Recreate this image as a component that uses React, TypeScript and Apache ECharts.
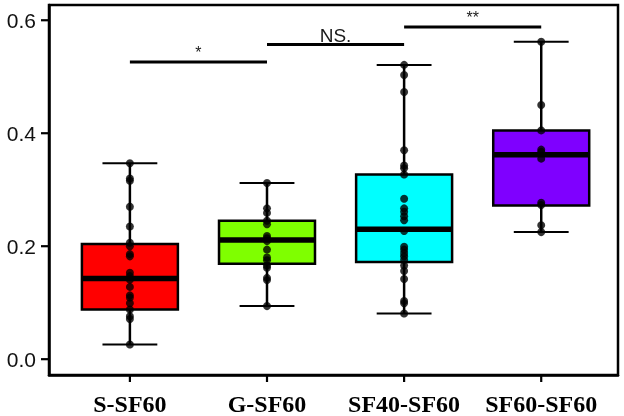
import React, { useEffect, useRef } from "react";
import * as echarts from "echarts";

const categories = ["S-SF60", "G-SF60", "SF40-SF60", "SF60-SF60"];
const boxColors = ["#FF0000", "#7FFF00", "#00FFFF", "#7F00FF"];

const whiskerLow = [0.026, 0.094, 0.081, 0.225];
const q1Values = [0.088, 0.169, 0.172, 0.272];
const medianValues = [0.143, 0.211, 0.23, 0.362];
const q3Values = [0.204, 0.245, 0.327, 0.405];
const whiskerHigh = [0.347, 0.312, 0.521, 0.562];

const pointsS = [
  0.347, 0.32, 0.316, 0.27, 0.235, 0.206, 0.2, 0.186, 0.182, 0.153, 0.147,
  0.141, 0.128, 0.113, 0.109, 0.099, 0.088, 0.076, 0.071, 0.026,
];
const pointsG = [
  0.312, 0.267, 0.259, 0.245, 0.239, 0.218, 0.214, 0.209, 0.194, 0.18, 0.175,
  0.166, 0.162, 0.144, 0.14, 0.094,
];
const pointsSF40 = [
  0.521, 0.503, 0.473, 0.37, 0.343, 0.338, 0.327, 0.284, 0.267, 0.261, 0.253,
  0.246, 0.227, 0.199, 0.194, 0.188, 0.182, 0.176, 0.166, 0.156, 0.142, 0.103,
  0.099, 0.081,
];
const pointsSF60 = [0.562, 0.45, 0.405, 0.371, 0.367, 0.355, 0.277, 0.273, 0.237, 0.225];

const yTicks = [0, 0.2, 0.4, 0.6];
const xTicks = [0, 1, 2, 3];

const sigStart = [0, 1, 2];
const sigEnd = [1, 2, 3];
const sigLevel = [0.526, 0.557, 0.588];
const sigLabels = ["*", "NS.", "**"];

const X_MIN = -0.59;
const X_MAX = 3.56;
const Y_MIN = -0.028;
const Y_MAX = 0.627;

export default function App() {
  const ref = useRef<HTMLDivElement>(null);
  useEffect(() => {
    if (!ref.current) return;
    const chart = echarts.init(ref.current, null, { renderer: "svg" });
    const pointGroups = [pointsS, pointsG, pointsSF40, pointsSF60];
    const boxData = categories.map((_, i) => [
      i,
      whiskerLow[i],
      q1Values[i],
      medianValues[i],
      q3Values[i],
      whiskerHigh[i],
    ]);
    const scatterData = pointGroups.flatMap((pts, i) => pts.map((v) => [i, v]));
    const sigData = sigStart.map((s, i) => [s, sigEnd[i], sigLevel[i]]);
    const yTickData = yTicks.map((v) => [X_MIN, v]);
    const xTickData = xTicks.map((v) => [v, Y_MIN]);

    chart.setOption({
      animation: false,
      grid: {
        left: 49,
        right: 6,
        top: 5,
        bottom: 41,
        show: true,
        borderColor: "#000",
        borderWidth: 2.5,
      },
      xAxis: {
        type: "value",
        min: X_MIN,
        max: X_MAX,
        splitLine: { show: false },
        axisLine: { onZero: false, lineStyle: { color: "#000", width: 2.5 } },
        axisTick: { show: false },
        axisLabel: {
          customValues: xTicks,
          formatter: (v: number) => categories[Math.round(v)] ?? "",
          margin: 17,
          fontFamily: "Liberation Serif",
          fontWeight: "bold",
          fontSize: 24,
          color: "#000",
        },
      },
      yAxis: {
        type: "value",
        min: Y_MIN,
        max: Y_MAX,
        splitLine: { show: false },
        axisLine: { show: true, onZero: false, lineStyle: { color: "#000", width: 2.5 } },
        axisTick: { show: false },
        axisLabel: {
          customValues: yTicks,
          formatter: (v: number) => v.toFixed(1),
          margin: 13,
          fontFamily: "Liberation Sans",
          fontSize: 21,
          color: "#111",
        },
      },
      series: [
        {
          type: "custom",
          name: "box",
          data: boxData,
          encode: { x: 0, y: [1, 2, 3, 4, 5] },
          z: 2,
          renderItem: (params: any, api: any) => {
            const x = api.value(0);
            const lo = api.coord([x, api.value(1)]);
            const q1 = api.coord([x, api.value(2)]);
            const med = api.coord([x, api.value(3)]);
            const q3 = api.coord([x, api.value(4)]);
            const hi = api.coord([x, api.value(5)]);
            const bw = api.size([0.7, 0])[0];
            const cw = api.size([0.4, 0])[0];
            const ls = { stroke: "#000", lineWidth: 2.5 };
            return {
              type: "group",
              children: [
                { type: "line", shape: { x1: lo[0], y1: lo[1], x2: q1[0], y2: q1[1] }, style: ls },
                { type: "line", shape: { x1: hi[0], y1: hi[1], x2: q3[0], y2: q3[1] }, style: ls },
                { type: "line", shape: { x1: lo[0] - cw / 2, y1: lo[1], x2: lo[0] + cw / 2, y2: lo[1] }, style: { stroke: "#000", lineWidth: 2 } },
                { type: "line", shape: { x1: hi[0] - cw / 2, y1: hi[1], x2: hi[0] + cw / 2, y2: hi[1] }, style: { stroke: "#000", lineWidth: 2 } },
                {
                  type: "rect",
                  shape: { x: q3[0] - bw / 2, y: q3[1], width: bw, height: q1[1] - q3[1] },
                  style: { fill: boxColors[params.dataIndex], stroke: "#000", lineWidth: 2.5 },
                },
                { type: "line", shape: { x1: med[0] - bw / 2, y1: med[1], x2: med[0] + bw / 2, y2: med[1] }, style: { stroke: "#000", lineWidth: 5.5 } },
              ],
            };
          },
        },
        {
          type: "scatter",
          name: "points",
          data: scatterData,
          symbol: "circle",
          symbolSize: 8,
          itemStyle: { color: "#000" },
          z: 3,
        },
        {
          type: "custom",
          name: "sig",
          data: sigData,
          encode: { x: [0, 1], y: 2 },
          z: 4,
          renderItem: (params: any, api: any) => {
            const a = api.coord([api.value(0), api.value(2)]);
            const b = api.coord([api.value(1), api.value(2)]);
            const label = sigLabels[params.dataIndex];
            const isStar = label.indexOf("*") >= 0;
            return {
              type: "group",
              children: [
                { type: "line", shape: { x1: a[0], y1: a[1], x2: b[0], y2: a[1] }, style: { stroke: "#000", lineWidth: 3 } },
                {
                  type: "text",
                  x: (a[0] + b[0]) / 2,
                  y: a[1] - (isStar ? 2 : 0),
                  style: {
                    text: label,
                    align: "center",
                    verticalAlign: "bottom",
                    fontFamily: "Liberation Sans",
                    fontSize: isStar ? 16 : 19,
                    fill: "#1a1a1a",
                  },
                },
              ],
            };
          },
        },
        {
          type: "custom",
          name: "yTicks",
          data: yTickData,
          encode: { x: 0, y: 1 },
          clip: false,
          silent: true,
          z: 5,
          renderItem: (params: any, api: any) => {
            const p = api.coord([api.value(0), api.value(1)]);
            return {
              type: "line",
              shape: { x1: p[0] - 8, y1: p[1], x2: p[0], y2: p[1] },
              style: { stroke: "#000", lineWidth: 2.2 },
            };
          },
        },
        {
          type: "custom",
          name: "xTicks",
          data: xTickData,
          encode: { x: 0, y: 1 },
          clip: false,
          silent: true,
          z: 5,
          renderItem: (params: any, api: any) => {
            const p = api.coord([api.value(0), api.value(1)]);
            return {
              type: "line",
              shape: { x1: p[0], y1: p[1], x2: p[0], y2: p[1] + 7 },
              style: { stroke: "#000", lineWidth: 2.2 },
            };
          },
        },
      ],
    });
    return () => chart.dispose();
  }, []);
  return (
    <div
      ref={ref}
      style={{ position: "fixed", left: 0, top: 0, width: 624, height: 416 }}
    />
  );
}
